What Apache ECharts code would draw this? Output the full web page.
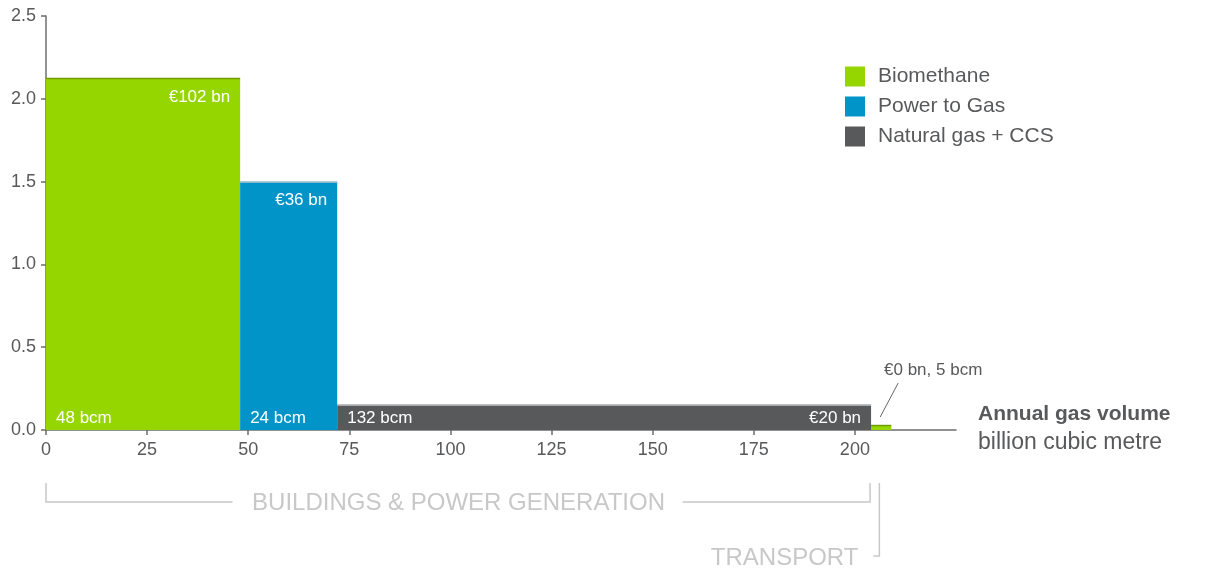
<!DOCTYPE html>
<html>
<head>
<meta charset="utf-8">
<script src="https://cdn.jsdelivr.net/npm/echarts@6/dist/echarts.min.js"></script>
<style>
  html, body { margin: 0; padding: 0; background: #fff; }
  #chart { width: 1211px; height: 569px; }
</style>
</head>
<body>
<div id="chart"></div>
<script>
// one entry per block, left to right
let sources = ['Biomethane', 'Power to Gas', 'Natural gas + CCS', 'Biomethane']
let volStart = [0, 48, 72, 204]
let volEnd = [48, 72, 204, 209]
let costPerBcm = [2.125, 1.5, 0.152, 0.03]
let costLabels = ['€102 bn', '€36 bn', '€20 bn', '']
let volLabels = ['48 bcm', '24 bcm', '132 bcm', '']
let transportNote = '€0 bn, 5 bcm'

let legendNames = ['Biomethane', 'Power to Gas', 'Natural gas + CCS']
let colors = {'Biomethane': '#96d600', 'Power to Gas': '#0094c8', 'Natural gas + CCS': '#58595b'}
let topColors = {'Biomethane': '#6f9c00', 'Power to Gas': '#b9c9d0', 'Natural gas + CCS': '#a8a9ab'}

let font = '"Liberation Sans", Arial, sans-serif'
let grey = '#58595b'

let chart = echarts.init(document.getElementById('chart'))

function renderBlock(params, api) {
  let name = legendNames[params.seriesIndex]
  let x0 = api.value(0), x1 = api.value(1), y = api.value(2)
  let p0 = api.coord([x0, y])
  let p1 = api.coord([x1, 0])
  let w = p1[0] - p0[0], h = p1[1] - p0[1]
  let idx = api.value(3)
  let children = [
    {type: 'rect', shape: {x: p0[0], y: p0[1], width: w, height: h}, style: {fill: colors[name]}},
    {type: 'line', shape: {x1: p0[0], y1: p0[1] + 0.5, x2: p1[0], y2: p0[1] + 0.5}, style: {stroke: topColors[name], lineWidth: 1.5}}
  ]
  if (costLabels[idx]) {
    let ty = h > 40 ? p0[1] + 19 : p1[1] - 12
    children.push({type: 'text', x: p1[0] - 10, y: ty,
      style: {text: costLabels[idx], fill: '#fff', font: '17px ' + font, align: 'right', verticalAlign: 'middle'}})
  }
  if (volLabels[idx]) {
    children.push({type: 'text', x: p0[0] + 10, y: p1[1] - 12,
      style: {text: volLabels[idx], fill: '#fff', font: '17px ' + font, align: 'left', verticalAlign: 'middle'}})
  }
  return {type: 'group', children: children}
}

let series = legendNames.map(function (name) {
  let data = []
  for (let i = 0; i < sources.length; i++) {
    if (sources[i] === name) data.push([volStart[i], volEnd[i], costPerBcm[i], i])
  }
  return {
    name: name,
    type: 'custom',
    renderItem: renderBlock,
    itemStyle: {color: colors[name]},
    encode: {x: [0, 1], y: 2},
    data: data
  }
})

let option = {
  animation: false,
  grid: {left: 46, right: 255, top: 16, bottom: 139},
  legend: {
    orient: 'vertical',
    left: 840, top: 61,
    icon: 'rect',
    itemWidth: 20, itemHeight: 20, itemGap: 9,
    textStyle: {fontSize: 21, color: grey, fontFamily: font, padding: [0, 0, 0, 8]},
    data: legendNames
  },
  xAxis: {
    type: 'value',
    min: 0, max: 225, interval: 25,
    splitLine: {show: false},
    axisLine: {lineStyle: {color: '#6d6e70', width: 1.5}},
    axisTick: {show: true, length: 5, lineStyle: {color: '#6d6e70', width: 1.5}},
    axisLabel: {color: grey, fontSize: 18, fontFamily: font, margin: 11, showMaxLabel: false}
  },
  yAxis: {
    type: 'value',
    min: 0, max: 2.5, interval: 0.5,
    splitLine: {show: false},
    axisLine: {show: true, lineStyle: {color: '#6d6e70', width: 1.5}},
    axisTick: {show: true, length: 5, lineStyle: {color: '#6d6e70', width: 1.5}},
    axisLabel: {color: grey, fontSize: 18, fontFamily: font, margin: 10,
      formatter: function (v) { return v.toFixed(1) }}
  },
  series: series
}
chart.setOption(option)

// annotations placed from axis coordinates
let px = function (v) { return chart.convertToPixel({xAxisIndex: 0}, v) }
let py = function (v) { return chart.convertToPixel({yAxisIndex: 0}, v) }
let xa = px(0), xb = px(volEnd[2]), xt = px((volStart[3] + volEnd[3]) / 2 - 0.2)
let mid = (xa + xb) / 2
let lc = '#c8c8c8'
let tTop = py(costPerBcm[3]) - 8

chart.setOption({
  graphic: [
    {type: 'polyline', shape: {points: [[xa, 483], [xa, 502], [mid - 226, 502]]}, style: {stroke: lc, lineWidth: 1.5, fill: null}},
    {type: 'polyline', shape: {points: [[mid + 224, 502], [xb - 1, 502], [xb - 1, 483]]}, style: {stroke: lc, lineWidth: 1.5, fill: null}},
    {type: 'text', x: mid, y: 503, style: {text: 'BUILDINGS & POWER GENERATION', fill: lc, font: '24px ' + font, align: 'center', verticalAlign: 'middle'}},
    {type: 'polyline', shape: {points: [[xt - 1, 483], [xt - 1, 556], [xt - 7, 556]]}, style: {stroke: lc, lineWidth: 1.5, fill: null}},
    {type: 'text', x: xt - 22, y: 558, style: {text: 'TRANSPORT', fill: lc, font: '24px ' + font, align: 'right', verticalAlign: 'middle'}},
    {type: 'line', shape: {x1: px(206.5) - 1, y1: tTop, x2: px(206.5) + 17, y2: tTop - 34}, style: {stroke: '#666', lineWidth: 1}},
    {type: 'text', x: px(206.5) + 52, y: 370, style: {text: transportNote, fill: grey, font: '17px ' + font, align: 'center', verticalAlign: 'middle'}},
    {type: 'text', x: 978, y: 414, style: {text: 'Annual gas volume', fill: grey, font: 'bold 21px ' + font, align: 'left', verticalAlign: 'middle'}},
    {type: 'text', x: 978, y: 443, style: {text: 'billion cubic metre', fill: grey, font: '23px ' + font, align: 'left', verticalAlign: 'middle'}}
  ]
})
</script>
</body>
</html>
